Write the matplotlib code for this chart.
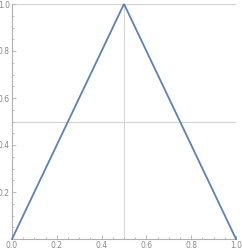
import matplotlib
matplotlib.use("Agg")
import matplotlib.pyplot as plt
from matplotlib.ticker import MultipleLocator, FixedLocator

x_vals = [0.0, 0.5, 1.0]
y_vals = [0.0, 1.0, 0.0]
x_ticks = [0.0, 0.2, 0.4, 0.6, 0.8, 1.0]
y_ticks = [0.2, 0.4, 0.6, 0.8, 1.0]
grid_x = [0.5, 1.0]
grid_y = [0.5, 1.0]

fig = plt.figure(figsize=(2.42, 2.50), dpi=100)
ax = fig.add_axes([12/242, 11/250, 224/242, 235/250])
ax.plot(x_vals, y_vals, color="#5E81B5", lw=1.3, solid_joinstyle="miter", clip_on=False, zorder=3)
for g in grid_x:
    ax.axvline(g, color="#d4d4d4", lw=0.8, zorder=1)
for g in grid_y:
    ax.axhline(g, color="#d4d4d4", lw=0.8, zorder=1)
ax.set_xlim(0, 1)
ax.set_ylim(0, 1)
for s in ["top", "right"]:
    ax.spines[s].set_visible(False)
for s in ["left", "bottom"]:
    ax.spines[s].set_color("#b0b0b0")
    ax.spines[s].set_linewidth(0.8)
ax.xaxis.set_major_locator(FixedLocator(x_ticks))
ax.yaxis.set_major_locator(FixedLocator(y_ticks))
ax.xaxis.set_minor_locator(MultipleLocator(0.05))
ax.yaxis.set_minor_locator(MultipleLocator(0.05))
ax.set_xticklabels([f"{v:.1f}" for v in x_ticks])
ax.set_yticklabels([f"{v:.1f}" for v in y_ticks])
ax.tick_params(which="both", direction="in", color="#b0b0b0", labelcolor="#888888", labelsize=5.5, pad=1.5, width=0.6)
ax.tick_params(which="major", length=3.0)
ax.tick_params(which="minor", length=1.5)
fig.savefig("out.png", dpi=100)
